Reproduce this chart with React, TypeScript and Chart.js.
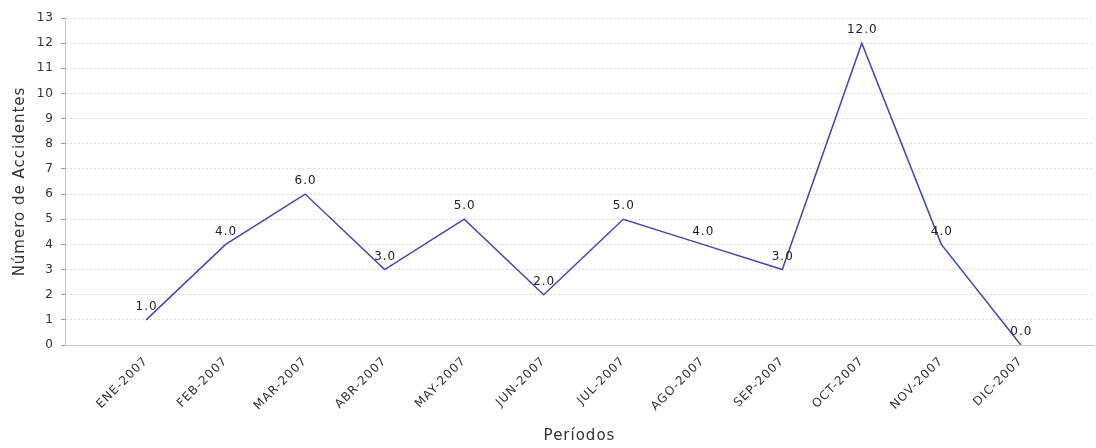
import React, { useEffect, useRef } from "react";
import { Chart, registerables } from "chart.js";

Chart.register(...registerables);

const categories = [
  "ENE-2007", "FEB-2007", "MAR-2007", "ABR-2007", "MAY-2007", "JUN-2007",
  "JUL-2007", "AGO-2007", "SEP-2007", "OCT-2007", "NOV-2007", "DIC-2007",
];
const accidents = [1, 4, 6, 3, 5, 2, 5, 4, 3, 12, 4, 0];
const yTitle = "Número de Accidentes";
const xTitle = "Períodos";

const FONT = "'DejaVu Sans', sans-serif";

const spacingPlugin = {
  id: "letterSpacing",
  beforeInit(chart: any) {
    chart.ctx.letterSpacing = "1px";
  },
  beforeLayout(chart: any) {
    chart.ctx.letterSpacing = "1px";
  },
  beforeDraw(chart: any) {
    chart.ctx.letterSpacing = "1px";
  },
};

const labelPlugin = {
  id: "pointLabels",
  afterDatasetsDraw(chart: any) {
    const ctx = chart.ctx;
    const meta = chart.getDatasetMeta(0);
    ctx.save();
    ctx.letterSpacing = "1px";
    ctx.font = `12px ${FONT}`;
    ctx.fillStyle = "#222";
    ctx.textAlign = "center";
    ctx.textBaseline = "middle";
    meta.data.forEach((pt: any, i: number) => {
      ctx.fillText(accidents[i].toFixed(1), pt.x + 0.5, pt.y - 13);
    });
    ctx.restore();
  },
};

export default function App() {
  const ref = useRef<HTMLCanvasElement>(null);
  useEffect(() => {
    document.body.style.margin = "0";
    const chart = new Chart(ref.current!, {
      type: "line",
      data: {
        datasets: [
          {
            data: accidents.map((v, i) => ({ x: i, y: v })),
            borderColor: "#3f47b2",
            borderWidth: 1.5,
            pointRadius: 0,
            tension: 0,
            fill: false,
          },
        ],
      },
      options: {
        animation: false,
        responsive: false,
        maintainAspectRatio: false,
        layout: { padding: { top: 18, right: 2, left: 0, bottom: 0 } },
        plugins: { legend: { display: false }, tooltip: { enabled: false } },
        scales: {
          x: {
            type: "linear",
            min: -1.02,
            max: 11.92,
            afterBuildTicks: (scale: any) => {
              scale.ticks = categories.map((_, i) => ({ value: i }));
            },
            afterFit: (scale: any) => {
              scale.height = 103;
            },
            grid: { display: false },
            border: { display: true, color: "#c8c8c8", width: 1 },
            ticks: {
              autoSkip: false,
              minRotation: 45,
              maxRotation: 45,
              padding: 1,
              color: "#333",
              font: { family: FONT, size: 12 },
              callback: (v: any) => categories[v] ?? "",
            },
            title: {
              display: true,
              text: xTitle,
              color: "#333",
              font: { family: FONT, size: 15 },
              padding: { top: 0, bottom: 3 },
            },
          },
          y: {
            min: 0,
            max: 13,
            afterFit: (scale: any) => {
              scale.width = 65;
            },
            grid: {
              color: "#dcdcdc",
              tickLength: 4,
              tickColor: "#999",
              tickBorderDash: [],
            },
            border: { display: true, color: "#c8c8c8", dash: [2, 2] },
            ticks: {
              stepSize: 1,
              padding: 7,
              color: "#333",
              font: { family: FONT, size: 12 },
            },
            title: {
              display: true,
              text: yTitle,
              color: "#333",
              font: { family: FONT, size: 15 },
              padding: { top: 11, bottom: 0 },
            },
          },
        },
      },
      plugins: [spacingPlugin, labelPlugin],
    });
    return () => chart.destroy();
  }, []);
  return (
    <div style={{ width: 1096, height: 448 }}>
      <canvas ref={ref} width={1096} height={448} />
    </div>
  );
}
